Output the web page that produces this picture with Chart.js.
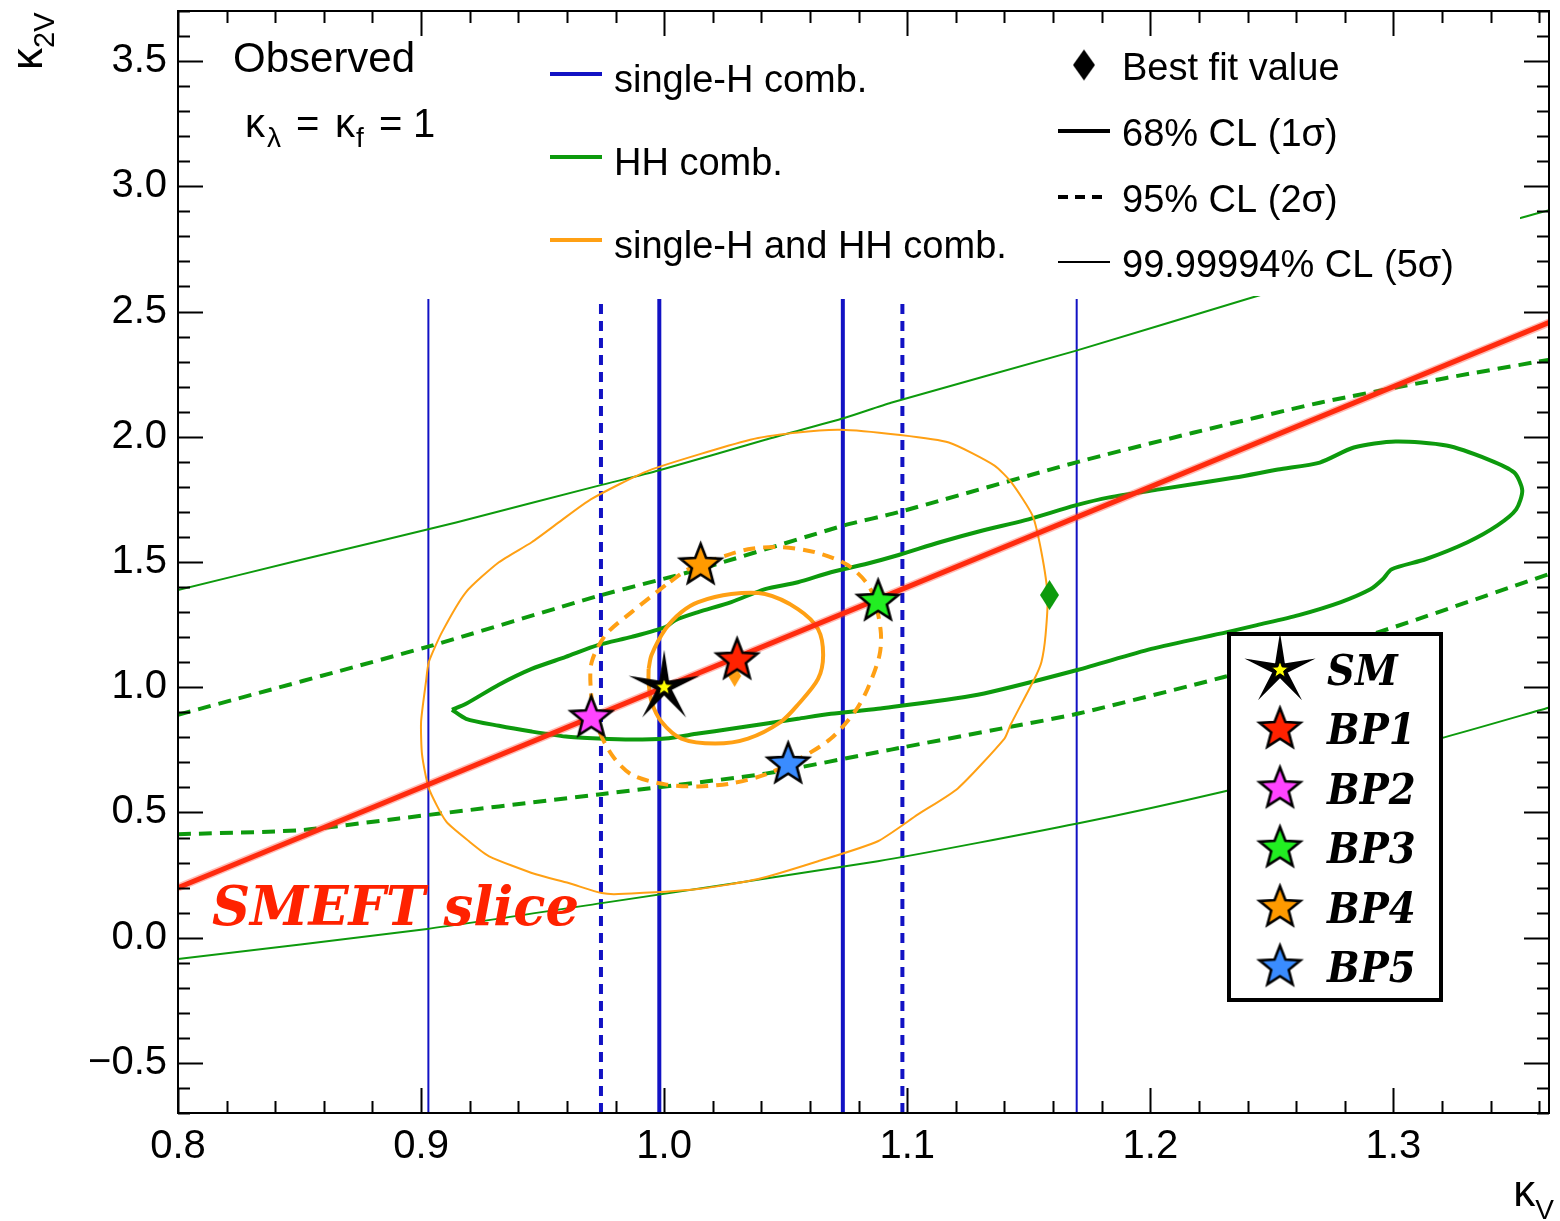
<!DOCTYPE html>
<html><head><meta charset="utf-8">
<script src="https://cdn.jsdelivr.net/npm/chart.js@4.4.0/dist/chart.umd.min.js"></script>
<style>html,body{margin:0;padding:0;background:#fff;}#wrap{width:1560px;height:1221px;}</style>
</head><body><div id="wrap"><canvas id="c" width="1560" height="1221"></canvas></div>
<script>
// ---------- axis ----------
const xRange = [0.8, 1.364];
const yRange = [-0.7, 3.7];
const xTickValues = [0.8, 0.9, 1.0, 1.1, 1.2, 1.3];
const xTickLabels = ['0.8', '0.9', '1.0', '1.1', '1.2', '1.3'];
const yTickValues = [-0.5, 0, 0.5, 1, 1.5, 2, 2.5, 3, 3.5];
const yTickLabels = ['\u22120.5', '0.0', '0.5', '1.0', '1.5', '2.0', '2.5', '3.0', '3.5'];
const xMinorStep = 0.02, yMinorStep = 0.1;

// ---------- single-H (vertical bands in kappa_V) ----------
const singleH1sX = [0.998, 1.0735];
const singleH2sX = [0.974, 1.098];
const singleH5sX = [0.903, 1.1697];
const singleHYSpan = [-0.7, 2.55];

// ---------- HH comb. ----------
const hh1X = [0.9127,0.9185,0.932,0.9455,0.9595,0.973,0.9866,1.0005,1.0046,1.014,1.0276,1.0415,1.055,1.0686,1.0826,1.0961,1.1134,1.131,1.1482,1.1692,1.1831,1.2037,1.2348,1.2525,1.2697,1.2837,1.3009,1.3218,1.3391,1.3497,1.353,1.3505,1.3428,1.3305,1.3132,1.2993,1.2956,1.2907,1.2784,1.2611,1.2439,1.2316,1.2004,1.17,1.129,1.0879,1.0686,1.055,1.0415,1.0276,1.014,1.0005,0.9866,0.973,0.9595,0.9455,0.932,0.9185,0.9127];
const hh1Y = [0.910,0.934,1.010,1.073,1.121,1.169,1.201,1.240,1.268,1.300,1.340,1.392,1.419,1.459,1.491,1.527,1.579,1.626,1.666,1.726,1.758,1.790,1.837,1.869,1.897,1.957,1.981,1.965,1.909,1.857,1.786,1.710,1.646,1.579,1.511,1.471,1.431,1.392,1.340,1.288,1.248,1.220,1.153,1.069,0.970,0.914,0.894,0.874,0.854,0.834,0.815,0.795,0.791,0.795,0.803,0.823,0.846,0.874,0.910];
const hh2UpX = [0.8, 0.9025, 0.9731, 1.0141, 1.074, 1.0961, 1.1692, 1.2176, 1.2697, 1.3218, 1.3637];
const hh2UpY = [0.890, 1.161, 1.365, 1.470, 1.646, 1.698, 1.897, 2.016, 2.136, 2.235, 2.307];
const hh2LoX = [0.8, 0.85, 0.891, 0.9731, 1.0005, 1.0416, 1.0933, 1.1425, 1.17, 1.2303, 1.2939, 1.3637];
const hh2LoY = [0.413, 0.429, 0.476, 0.572, 0.604, 0.655, 0.751, 0.842, 0.894, 1.041, 1.220, 1.451];
const hh5UpX = [0.8, 0.8499, 0.9144, 0.9731, 0.9977, 1.0416, 1.0744, 1.0933, 1.1692, 1.2398, 1.3518, 1.3637];
const hh5UpY = [1.388, 1.507, 1.658, 1.805, 1.865, 1.988, 2.076, 2.136, 2.343, 2.550, 2.872, 2.904];
const hh5LoX = [0.8, 0.9025, 0.9743, 1.0879, 1.17, 1.2303, 1.319, 1.3637];
const hh5LoY = [-0.085, 0.035, 0.138, 0.305, 0.456, 0.584, 0.795, 0.918];

// ---------- single-H and HH comb. ----------
const comb1X = [0.9936,0.9948,1.0005,1.0071,1.014,1.0276,1.0415,1.055,1.0633,1.0654,1.0633,1.055,1.048,1.0345,1.021,1.0071,0.9989,0.9948,0.9936,0.9936];
const comb1Y = [1.073,1.129,1.232,1.300,1.340,1.372,1.372,1.312,1.232,1.129,1.033,0.930,0.862,0.795,0.775,0.795,0.862,0.942,1.021,1.073];
const comb2X = [1.0005,0.9866,0.9759,0.9702,0.9698,0.9718,0.9784,0.9866,1.0005,1.014,1.0276,1.0415,1.055,1.0686,1.0784,1.0837,1.0886,1.089,1.0849,1.0756,1.0621,1.0481,1.0345,1.021,1.0099,1.0005];
const comb2Y = [1.407,1.300,1.209,1.101,0.994,0.862,0.731,0.651,0.612,0.604,0.616,0.651,0.711,0.795,0.902,0.994,1.129,1.232,1.392,1.487,1.539,1.559,1.551,1.511,1.471,1.407];
const comb5X = [0.9566,0.9698,0.9936,1.0354,1.0539,1.0723,1.0961,1.1171,1.1359,1.1429,1.1515,1.1552,1.1577,1.1569,1.1552,1.1523,1.1425,1.14,1.1208,1.1044,1.0879,1.0633,1.0387,1.014,0.9812,0.9743,0.9607,0.9472,0.928,0.9197,0.9103,0.9032,0.9004,0.9,0.902,0.9032,0.9086,0.9185,0.932,0.9455,0.9566];
const comb5Y = [1.658,1.750,1.865,1.988,2.016,2.028,2.008,1.977,1.885,1.817,1.686,1.539,1.368,1.209,1.101,1.033,0.850,0.795,0.596,0.492,0.385,0.305,0.234,0.194,0.174,0.178,0.218,0.253,0.325,0.385,0.464,0.596,0.731,0.862,1.021,1.101,1.220,1.380,1.499,1.579,1.658];

// ---------- best fits ----------
const bestFitHH = [1.1585, 1.368];
const bestFitComb = [1.029, 1.045];

// ---------- SMEFT slice ----------
const smeftX = [0.8, 1.37];
const smeftY = [0.2, 2.48];

// ---------- benchmark points ----------
const bpNames = ['SM', 'BP1', 'BP2', 'BP3', 'BP4', 'BP5'];
const bpKV   = [1.0, 1.03, 0.970, 1.088, 1.015, 1.051];
const bpK2V  = [1.0, 1.108, 0.878, 1.342, 1.487, 0.692];
const bpColors = ['#ffff00', '#ff2200', '#ff44ff', '#22ee22', '#ff9a00', '#3a8cff'];

// ---------- styles ----------
const BLUE = '#1212c4', GREEN = '#0d9a0d', ORANGE = '#ffa014', RED = '#ff2200';
const SANS = '"Liberation Sans", Arial, sans-serif';
const SERIF = '"DejaVu Serif", "Liberation Serif", serif';

function zip(xs, ys) { return xs.map((x, i) => ({x: x, y: ys[i]})); }

function starPath(g, cx, cy, R, r) {
  g.beginPath();
  for (let i = 0; i < 10; i++) {
    const a = -Math.PI / 2 + i * Math.PI / 5;
    const rr = (i % 2) ? r : R;
    g.lineTo(cx + rr * Math.cos(a), cy + rr * Math.sin(a));
  }
  g.closePath();
}
function starCanvas(R, ratio, fill, lw, inner) {
  const s = Math.ceil(2 * R + 24);
  const c = document.createElement('canvas');
  c.width = s; c.height = s;
  const g = c.getContext('2d');
  const cx = s / 2, cy = s / 2;
  starPath(g, cx, cy, R, R * ratio);
  g.fillStyle = fill; g.fill();
  g.lineWidth = lw; g.strokeStyle = '#000'; g.lineJoin = 'miter'; g.stroke();
  if (inner) {
    starPath(g, cx, cy, inner.R, inner.R * inner.ratio);
    g.fillStyle = inner.fill; g.fill();
    g.lineWidth = 1; g.strokeStyle = '#000'; g.stroke();
  }
  return c;
}
function diamondCanvas(w, h, fill) {
  const c = document.createElement('canvas');
  c.width = w + 2; c.height = h + 2;
  const g = c.getContext('2d');
  const cx = c.width / 2, cy = c.height / 2;
  g.beginPath();
  g.moveTo(cx, cy - h / 2); g.lineTo(cx + w / 2, cy); g.lineTo(cx, cy + h / 2); g.lineTo(cx - w / 2, cy);
  g.closePath(); g.fillStyle = fill; g.fill();
  return c;
}

const starImgs = bpNames.map((n, i) => i === 0
  ? starCanvas(31, 0.22, '#000', 2, {R: 9, ratio: 0.42, fill: bpColors[0]})
  : starCanvas(21.5, 0.43, bpColors[i], 2.6));

const datasets = [];
bpNames.forEach((n, i) => {
  datasets.push({label: n, data: [{x: bpKV[i], y: bpK2V[i]}], showLine: false,
    pointStyle: starImgs[i], pointRadius: 10, order: i === 0 ? 1 : 0});
});
datasets.push({label: 'bf HH', data: [{x: bestFitHH[0], y: bestFitHH[1]}], showLine: false,
  pointStyle: diamondCanvas(19, 30, GREEN), pointRadius: 10, order: 2});
datasets.push({label: 'bf comb', data: [{x: bestFitComb[0], y: bestFitComb[1]}], showLine: false,
  pointStyle: diamondCanvas(13, 22, ORANGE), pointRadius: 10, order: 2});

function lineDS(label, xs, ys, color, width, dash, order, tension) {
  return {label: label, data: zip(xs, ys), showLine: true, borderColor: color, borderWidth: width,
    borderDash: dash || [], pointRadius: 0, fill: false, tension: tension || 0, order: order,
    borderCapStyle: 'butt', borderJoinStyle: 'round'};
}
datasets.push(lineDS('smeft halo', smeftX, smeftY, 'rgba(255,60,40,0.35)', 8, null, 3));
datasets.push(lineDS('smeft', smeftX, smeftY, RED, 5, null, 3));
datasets.push(lineDS('comb1', comb1X, comb1Y, ORANGE, 4, null, 4, 0.3));
datasets.push(lineDS('comb2', comb2X, comb2Y, ORANGE, 4, [12, 8], 4, 0.3));
datasets.push(lineDS('comb5', comb5X, comb5Y, ORANGE, 2, null, 4, 0.2));
datasets.push(lineDS('hh1', hh1X, hh1Y, GREEN, 4, null, 5, 0.25));
datasets.push(lineDS('hh2up', hh2UpX, hh2UpY, GREEN, 4, [13, 8], 5, 0.2));
datasets.push(lineDS('hh2lo', hh2LoX, hh2LoY, GREEN, 4, [13, 8], 5, 0.2));
datasets.push(lineDS('hh5up', hh5UpX, hh5UpY, GREEN, 2, null, 5, 0.2));
datasets.push(lineDS('hh5lo', hh5LoX, hh5LoY, GREEN, 2, null, 5, 0.2));
singleH1sX.forEach((x, i) => datasets.push(lineDS('sh1_' + i, [x, x], singleHYSpan, BLUE, 4, null, 6)));
singleH2sX.forEach((x, i) => datasets.push(lineDS('sh2_' + i, [x, x], singleHYSpan, BLUE, 4, [10, 7], 6)));
singleH5sX.forEach((x, i) => datasets.push(lineDS('sh5_' + i, [x, x], singleHYSpan, BLUE, 2, null, 6)));

// ---------- plugins ----------
const legendBoxes = {
  id: 'legendBoxes',
  afterDatasetsDraw(chart) {
    const ctx = chart.ctx;
    ctx.save();
    ctx.fillStyle = '#fff';
    ctx.fillRect(400, 36, 1120, 260);
    ctx.font = '38px ' + SANS; ctx.fillStyle = '#000'; ctx.textBaseline = 'alphabetic'; ctx.textAlign = 'left';
    const l1 = [['single-H comb.', BLUE, 74, 92], ['HH comb.', GREEN, 157, 175], ['single-H and HH comb.', ORANGE, 240, 258]];
    l1.forEach(e => {
      ctx.strokeStyle = e[1]; ctx.lineWidth = 4; ctx.setLineDash([]);
      ctx.beginPath(); ctx.moveTo(550, e[2]); ctx.lineTo(602, e[2]); ctx.stroke();
      ctx.fillStyle = '#000'; ctx.fillText(e[0], 614, e[3]);
    });
    const dm = diamondCanvas(22, 31, '#000');
    ctx.drawImage(dm, 1084 - dm.width / 2, 65 - dm.height / 2);
    ctx.fillText('Best fit value', 1122, 80);
    ctx.strokeStyle = '#000';
    ctx.lineWidth = 4; ctx.beginPath(); ctx.moveTo(1058, 131); ctx.lineTo(1110, 131); ctx.stroke();
    ctx.fillText('68% CL (1\u03c3)', 1122, 146);
    ctx.setLineDash([10, 7]); ctx.beginPath(); ctx.moveTo(1058, 197); ctx.lineTo(1104, 197); ctx.stroke();
    ctx.setLineDash([]);
    ctx.fillText('95% CL (2\u03c3)', 1122, 212);
    ctx.lineWidth = 2; ctx.beginPath(); ctx.moveTo(1058, 262); ctx.lineTo(1110, 262); ctx.stroke();
    ctx.fillText('99.99994% CL (5\u03c3)', 1122, 277);
    ctx.fillStyle = '#fff'; ctx.fillRect(1229, 634, 212, 366);
    ctx.lineWidth = 4; ctx.strokeStyle = '#000'; ctx.strokeRect(1229, 634, 212, 366);
    ctx.font = 'italic bold 42px ' + SERIF; ctx.fillStyle = '#000';
    bpNames.forEach((n, i) => {
      const cy = 670 + i * 59.4;
      const im = starImgs[i];
      ctx.drawImage(im, 1280 - im.width / 2, cy - im.height / 2);
      ctx.save(); ctx.translate(1327, cy + 15); ctx.scale(0.92, 1);
      ctx.fillText(n, 0, 0); ctx.restore();
    });
    ctx.font = 'italic bold 54px ' + SERIF; ctx.fillStyle = RED;
    const w = ctx.measureText('SMEFT slice').width;
    ctx.translate(212, 925); ctx.scale(367 / w, 1);
    ctx.fillText('SMEFT slice', 0, 0);
    ctx.restore();
  },
  afterDraw(chart) {
    const ctx = chart.ctx, a = chart.chartArea;
    const xs = chart.scales.x, ys = chart.scales.y;
    ctx.save();
    ctx.strokeStyle = '#000'; ctx.lineWidth = 2; ctx.setLineDash([]);
    ctx.strokeRect(a.left, a.top, a.right - a.left, a.bottom - a.top);
    ctx.beginPath();
    const nX = Math.round((xRange[1] - xRange[0]) / xMinorStep);
    for (let k = 0; k <= nX; k++) {
      const v = xRange[0] + k * xMinorStep;
      if (v > xRange[1]) break;
      const major = xTickValues.some(t => Math.abs(t - v) < 1e-6);
      const L = major ? 25 : 12;
      const px = Math.round(xs.getPixelForValue(v)) + 0.5;
      ctx.moveTo(px, a.bottom); ctx.lineTo(px, a.bottom - L);
      ctx.moveTo(px, a.top); ctx.lineTo(px, a.top + L);
    }
    const nY = Math.round((yRange[1] - yRange[0]) / yMinorStep);
    for (let k = 0; k <= nY; k++) {
      const v = yRange[0] + k * yMinorStep;
      const major = yTickValues.some(t => Math.abs(t - v) < 1e-6);
      const L = major ? 25 : 12;
      const py = Math.round(ys.getPixelForValue(v)) + 0.5;
      ctx.moveTo(a.left, py); ctx.lineTo(a.left + L, py);
      ctx.moveTo(a.right, py); ctx.lineTo(a.right - L, py);
    }
    ctx.stroke();
    ctx.fillStyle = '#000'; ctx.textAlign = 'left'; ctx.textBaseline = 'alphabetic';
    ctx.font = '42px ' + SANS; ctx.fillText('Observed', 233, 72);
    ctx.font = '40px ' + SANS; ctx.fillText('\u03ba', 245, 137);
    ctx.font = '28px ' + SANS; ctx.fillText('\u03bb', 267, 147);
    ctx.font = '40px ' + SANS; ctx.fillText('=', 296, 137);
    ctx.fillText('\u03ba', 335, 137);
    ctx.font = '28px ' + SANS; ctx.fillText('f', 356, 147);
    ctx.font = '40px ' + SANS; ctx.fillText('=', 379, 137);
    ctx.fillText('1', 413, 137);
    ctx.font = '28px ' + SANS;
    const wv = ctx.measureText('V').width;
    ctx.fillText('V', 1554 - wv, 1219);
    ctx.font = '44px ' + SANS;
    const wk = ctx.measureText('\u03ba').width;
    ctx.fillText('\u03ba', 1554 - wv - wk, 1206);
    ctx.translate(42, 70); ctx.rotate(-Math.PI / 2);
    ctx.font = '44px ' + SANS; ctx.fillText('\u03ba', 0, 0);
    const wk2 = ctx.measureText('\u03ba').width;
    ctx.font = '29px ' + SANS; ctx.fillText('2V', wk2, 12);
    ctx.restore();
  }
};

new Chart(document.getElementById('c'), {
  type: 'scatter',
  data: {datasets: datasets},
  options: {
    responsive: false, animation: false, devicePixelRatio: 1,
    layout: {padding: {top: 7, right: 8, left: 0, bottom: 0}},
    plugins: {legend: {display: false}, tooltip: {enabled: false}},
    scales: {
      x: {type: 'linear', min: xRange[0], max: xRange[1], position: 'bottom',
        afterFit(s) { s.height = 108; s.paddingLeft = 0; s.paddingRight = 0; s.paddingTop = 0; s.paddingBottom = 0; },
        afterBuildTicks(s) { s.ticks = xTickValues.map(v => ({value: v})); },
        grid: {display: false, drawTicks: false}, border: {display: false},
        ticks: {padding: 10, color: '#000', font: {family: SANS, size: 40}, maxRotation: 0, autoSkip: false,
          callback: (v, i) => xTickLabels[i]}},
      y: {type: 'linear', min: yRange[0], max: yRange[1], position: 'left',
        afterFit(s) { s.width = 178; s.paddingLeft = 0; s.paddingRight = 0; s.paddingTop = 0; s.paddingBottom = 0; },
        afterBuildTicks(s) { s.ticks = yTickValues.map(v => ({value: v})); },
        grid: {display: false, drawTicks: false}, border: {display: false},
        ticks: {padding: 11, color: '#000', font: {family: SANS, size: 40}, autoSkip: false,
          callback: (v, i) => yTickLabels[i]}}
    }
  },
  plugins: [legendBoxes]
});
</script></body></html>
